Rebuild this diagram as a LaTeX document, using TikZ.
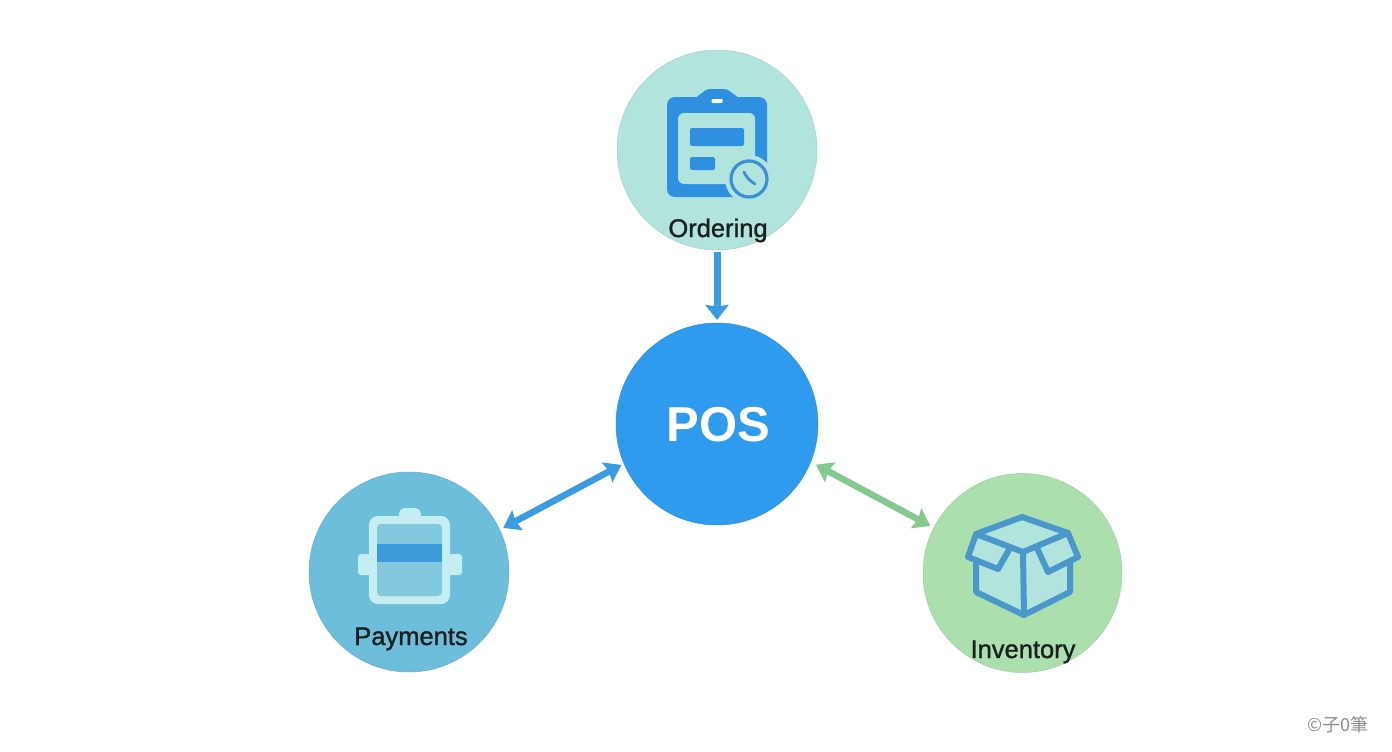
\documentclass[tikz,border=0pt]{standalone}
\usepackage{fontspec}
\setmainfont{Liberation Sans}
\newfontfamily\medfont[FakeBold=1.2]{Liberation Sans}
\newfontfamily\cjkfont{Noto Sans CJK SC}
\usetikzlibrary{arrows.meta}
\definecolor{ordbg}{HTML}{B2E4DE}
\definecolor{posbg}{HTML}{2F9BEE}
\definecolor{paybg}{HTML}{6DBEDB}
\definecolor{invbg}{HTML}{ABDFAE}
\definecolor{arrowblue}{HTML}{3A9BE0}
\definecolor{arrowgreen}{HTML}{84C98F}
\definecolor{clipblue}{HTML}{2F8FE0}
\definecolor{ringblue}{HTML}{3B8FD6}
\definecolor{paylight}{HTML}{C4EEF3}
\definecolor{payinner}{HTML}{84C8DE}
\definecolor{payband}{HTML}{3D9ADB}
\definecolor{boxline}{HTML}{4A97CC}
\definecolor{labelink}{HTML}{1A1F1F}
\tikzset{
  hub/.style={circle,inner sep=0pt,outer sep=0pt,minimum size=#1},
  label text/.style={font=\fontsize{25.5}{28}\medfont,text=labelink,anchor=base,inner sep=0pt},
  link/.style={line width=#1,-{Stealth[length=15pt,width=23pt,inset=1.5pt]}},
  biglink/.style={line width=#1,{Stealth[length=16pt,width=22pt,inset=2pt]}-{Stealth[length=16pt,width=22pt,inset=2pt]}},
  box edge/.style={draw=boxline,line width=6pt,line join=round,line cap=round},
}
\begin{document}
\begin{tikzpicture}[x=1pt,y=-1pt]
\useasboundingbox (0,0) rectangle (1392,752);
\fill[white] (0,0) rectangle (1392,752);

% hubs
\node[hub=200pt,fill=ordbg,draw=ordbg!92!black,line width=.5pt] (ord) at (717,150) {};
\node[hub=202pt,fill=posbg,draw=posbg!92!black,line width=.5pt] (pos) at (717,424) {};
\node[hub=200pt,fill=paybg,draw=paybg!92!black,line width=.5pt] (pay) at (409,572) {};
\node[hub=199pt,fill=invbg,draw=invbg!92!black,line width=.5pt] (inv) at (1022.5,573) {};

% connectors
\draw[link=7pt,arrowblue,shorten <=2pt,shorten >=3pt] (ord.south) -- (pos.north);
\draw[biglink=6.5pt,arrowblue,shorten <=4pt,shorten >=3pt] (pay.25.6) -- (pos.203.8);
\draw[biglink=6.5pt,arrowgreen,shorten <=6pt,shorten >=4pt] (pos.-22.7) -- (inv.153.4);

% clipboard icon
\fill[clipblue,rounded corners=8pt] (667,97) rectangle (767,197);
\fill[clipblue,rounded corners=3pt] (695,98) -- (702,93) -- (707,89) -- (727,89) -- (732,93) -- (739,98) -- cycle;
\fill[white,rounded corners=1pt] (711.5,99) rectangle (722.5,103);
\fill[ordbg,rounded corners=6pt] (678,113) rectangle (755,184);
\fill[clipblue,rounded corners=2pt] (690,128) rectangle (744,146);
\fill[clipblue,rounded corners=2pt] (690,157) rectangle (715,170);
\fill[ordbg] (749,179) circle (24);
\draw[ringblue,line width=3.2pt] (749,179) circle (18);
\draw[ringblue,line width=2.8pt,line cap=round] (744,172) .. controls (746,177) and (750,181) .. (755,184);

% payment icon
\fill[paylight,rounded corners=3pt] (399,522) -- (399,511) -- (403,508) -- (417,508) -- (421,511) -- (421,522) -- cycle;
\fill[paylight,rounded corners=3pt] (358,554) rectangle (372,575);
\fill[paylight,rounded corners=3pt] (448,554) rectangle (462,575);
\fill[paylight,rounded corners=9pt] (369,516) rectangle (450,604);
\fill[payinner,rounded corners=4pt] (377,524) rectangle (442,596);
\fill[payband] (377,544) rectangle (442,562);

% box icon
\fill[ordbg] (1022,517) -- (1068,533) -- (1078,557) -- (1070,563) -- (1070,592) -- (1024,615) -- (976,592) -- (976,560) -- (968,557) -- (976,534) -- cycle;
\draw[box edge] (1022,517) -- (1068,533) -- (1023,552) -- (976,534) -- cycle;
\draw[box edge] (976,534) -- (968,557) -- (998,569) -- (1010,548);
\draw[box edge] (1068,533) -- (1078,557) -- (1048,572) -- (1037,548);
\draw[box edge] (976,560) -- (976,592) -- (1024,615) -- (1070,592) -- (1070,563);
\draw[box edge] (1023,552) -- (1024,615);

% labels
\node[label text] (ordt) at (718,237) {Ordering};
\node[label text] (payt) at (411,645) {Payments};
\node[label text] (invt) at (1023,658) {Inventory};
\node[font=\fontsize{49}{52}\bfseries,text=white,anchor=base,inner sep=0pt] (post) at (718.5,441.5) {POS};
\node[font=\fontsize{18}{20}\cjkfont,text=black!45,inner sep=0pt] (wm) at (1338,725) {©子0筆};
\end{tikzpicture}
\end{document}
